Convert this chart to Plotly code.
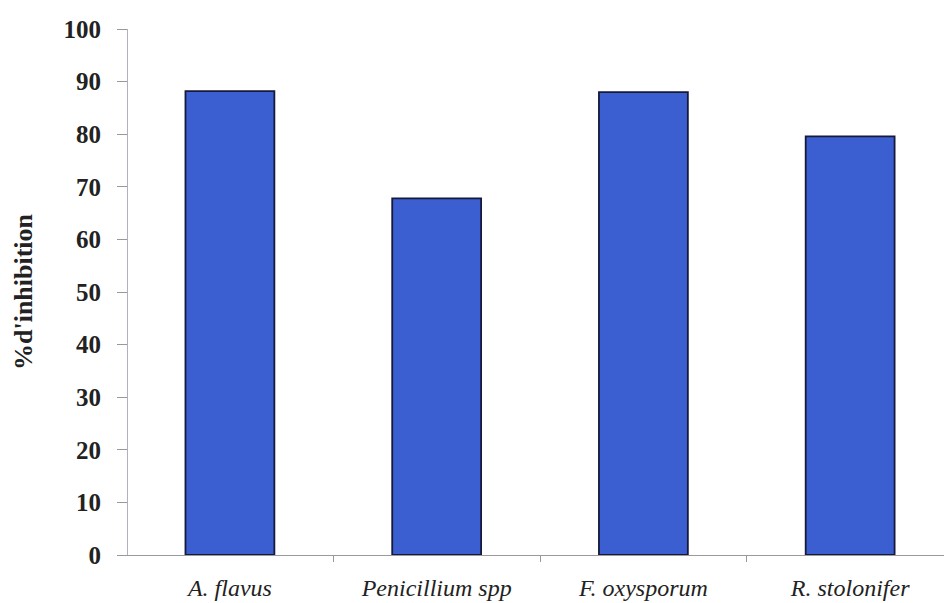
import plotly.graph_objects as go

# Inhibition (%) per fungus
fungi = ["A. flavus", "Penicillium spp", "F. oxysporum", "R. stolonifer"]
inhibition = [88.2, 67.8, 88.0, 79.6]
y_ticks = list(range(0, 101, 10))

positions = list(range(len(fungi)))

fig = go.Figure()
fig.add_trace(go.Bar(
    x=positions, y=inhibition, width=0.43,
    marker=dict(color="#3b5fd0", line=dict(color="#161a3a", width=1.8)),
    showlegend=False,
))

fig.update_layout(
    width=944, height=603,
    margin=dict(l=128, r=0, t=29, b=48),
    paper_bgcolor="white", plot_bgcolor="white",
    font=dict(family="Liberation Serif", color="#222222"),
)
fig.update_xaxes(
    range=[-0.493, 3.454],
    automargin=False,
    tickvals=positions, ticktext=fungi,
    tickfont=dict(size=24, family="Liberation Serif", style="italic"),
    ticks="outside", ticklen=11, tickcolor="rgba(0,0,0,0)",
    minor=dict(tickvals=[0.5, 1.5, 2.5], ticks="outside", ticklen=6, tickcolor="#999999"),
    showline=True, linecolor="#9a9a9a", linewidth=1,
    showgrid=False, zeroline=False,
)
fig.update_yaxes(
    range=[0, 100],
    automargin=False,
    tickvals=y_ticks,
    tickfont=dict(size=25, family="Liberation Serif", weight="bold"),
    ticks="outside", ticklen=10, tickcolor="#999999",
    ticklabelstandoff=11,
    showline=True, linecolor="#b0b0c0", linewidth=1,
    showgrid=False, zeroline=False,
    title=dict(text="%d'inhibition", font=dict(size=26, family="Liberation Serif", weight="bold"), standoff=23),
)

# drop the page's default body margin so the figure sits at the window corner
fig.write_html("out.html", config={"displayModeBar": False},
               post_script="document.body.style.margin='0';")
